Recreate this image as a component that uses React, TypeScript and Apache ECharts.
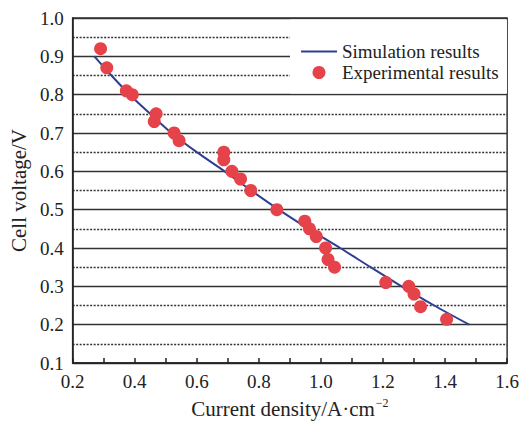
import React, { useEffect, useRef } from "react";
import * as echarts from "echarts";

const simX = [0.27, 0.325, 0.384, 0.45, 0.518, 0.6, 0.69, 0.775, 0.864, 0.96, 1.062, 1.16, 1.26, 1.365, 1.478];
const simY = [0.9, 0.85, 0.8, 0.75, 0.7, 0.65, 0.6, 0.55, 0.5, 0.45, 0.4, 0.35, 0.3, 0.25, 0.2];

const expX = [0.29, 0.31, 0.373, 0.392, 0.463, 0.469, 0.527, 0.543, 0.687, 0.687, 0.713, 0.741, 0.774, 0.858, 0.948, 0.963, 0.985, 1.015, 1.023, 1.044, 1.209, 1.283, 1.3, 1.321, 1.405];
const expY = [0.92, 0.87, 0.81, 0.8, 0.73, 0.75, 0.7, 0.68, 0.65, 0.63, 0.6, 0.58, 0.55, 0.5, 0.47, 0.45, 0.43, 0.4, 0.37, 0.35, 0.31, 0.3, 0.28, 0.247, 0.214];

const FONT = "'Liberation Serif', 'Times New Roman', serif";

export default function App() {
  const ref = useRef<HTMLDivElement>(null);
  useEffect(() => {
    if (!ref.current) return;
    const chart = echarts.init(ref.current, null, { renderer: "svg" });
    chart.setOption({
      animation: false,
      backgroundColor: "#fff",
      grid: {
        left: 71,
        top: 18,
        right: 14,
        bottom: 59,
        show: true,
        borderColor: "#333",
        borderWidth: 1.5,
        backgroundColor: "transparent",
      },
      graphic: [
        {
          type: "rect",
          left: 290,
          top: 19.5,
          z: 1,
          shape: { width: 217, height: 74 },
          style: { fill: "#fff" },
        },
      ],
      legend: {
        orient: "vertical",
        left: 296,
        top: 37,
        itemWidth: 36,
        itemHeight: 13,
        itemGap: 2,
        z: 5,
        textStyle: { fontFamily: FONT, fontSize: 19, color: "#222" },
        data: [
          { name: "Simulation results", icon: "path://M0,0 H36 V2 H0 Z" },
          { name: "Experimental results", icon: "circle" },
        ],
      },
      xAxis: {
        type: "value",
        min: 0.2,
        max: 1.6,
        interval: 0.2,
        name: "Current density/A·cm{sup|−2}",
        nameLocation: "middle",
        nameGap: 34,
        nameTextStyle: {
          fontFamily: FONT,
          fontSize: 21,
          color: "#222",
          rich: { sup: { fontFamily: FONT, fontSize: 12, color: "#222", verticalAlign: "top", padding: [0, 0, 11, 1] } },
        },
        axisLine: { show: true, lineStyle: { color: "#222", width: 1.5 } },
        axisTick: { show: true, inside: true, length: 5, lineStyle: { color: "#222", width: 1.5 } },
        minorTick: { show: true, splitNumber: 2, length: 5, lineStyle: { color: "#222", width: 1.5 } },
        splitLine: { show: false },
        axisLabel: {
          fontFamily: FONT,
          fontSize: 19,
          color: "#222",
          margin: 9,
          formatter: (v: number) => v.toFixed(1),
        },
      },
      yAxis: {
        type: "value",
        min: 0.1,
        max: 1.0,
        interval: 0.1,
        name: "Cell voltage/V",
        nameLocation: "middle",
        nameGap: 40,
        nameTextStyle: { fontFamily: FONT, fontSize: 21, color: "#222" },
        axisLine: { show: true, lineStyle: { color: "#222", width: 1.5 } },
        axisTick: { show: false },
        minorTick: { show: false, splitNumber: 2 },
        splitLine: { show: true, lineStyle: { color: "#333", width: 1.3 } },
        minorSplitLine: { show: true, lineStyle: { color: "#333", width: 1.3, type: [2, 1.5] } },
        axisLabel: {
          fontFamily: FONT,
          fontSize: 19,
          color: "#222",
          margin: 9,
          formatter: (v: number) => v.toFixed(1),
        },
      },
      series: [
        {
          name: "Simulation results",
          type: "line",
          smooth: 0.3,
          symbol: "none",
          z: 3,
          lineStyle: { color: "#2e3f91", width: 2 },
          itemStyle: { color: "#2e3f91" },
          data: simX.map((x, i) => [x, simY[i]]),
        },
        {
          name: "Experimental results",
          type: "scatter",
          symbolSize: 13,
          z: 4,
          itemStyle: { color: "#e5424a", opacity: 1 },
          data: expX.map((x, i) => [x, expY[i]]),
        },
      ],
    });
    return () => chart.dispose();
  }, []);
  return <div ref={ref} style={{ width: 522, height: 424, position: "absolute", left: 0, top: 0 }} />;
}
